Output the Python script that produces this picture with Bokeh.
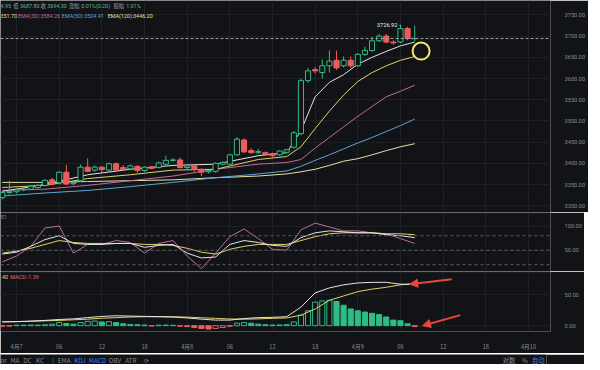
from bokeh.plotting import figure
from bokeh.layouts import column
from bokeh.models import (ColumnDataSource, Range1d, FixedTicker, Span, Label,
                          Arrow, NormalHead, NumeralTickFormatter)
from bokeh.embed import file_html
from bokeh.resources import INLINE

# ---------------- data ----------------
hours = list(range(-2, 57))  # hours since 4月7 00:00, hourly candles
opens = [3319, 3331, 3333, 3338, 3339, 3343, 3348, 3361, 3354, 3379,
         3352, 3359, 3391, 3384, 3391, 3384, 3399, 3390, 3387, 3393,
         3383, 3392, 3390, 3398, 3407, 3408, 3390, 3394, 3386, 3380,
         3381, 3398, 3398, 3420, 3455, 3430, 3425, 3425, 3423, 3420,
         3426, 3438, 3470, 3595, 3621, 3614, 3630, 3643, 3630, 3643,
         3630, 3657, 3666, 3689, 3700, 3686, 3686, 3718, 3694.1]
highs = [3334, 3359, 3340, 3345, 3349, 3351, 3362, 3366, 3381, 3397,
         3358, 3397, 3412, 3395, 3393, 3402, 3402, 3396, 3397, 3395,
         3393, 3394, 3404, 3418, 3412, 3414, 3398, 3396, 3388, 3385,
         3402, 3405, 3423, 3462, 3459, 3436, 3434, 3428, 3425, 3431,
         3434, 3476, 3600, 3625, 3627, 3645, 3666, 3666, 3652, 3652,
         3660, 3675, 3698, 3705, 3705, 3690, 3726.92, 3722, 3724.95]
lows = [3315, 3327, 3329, 3334, 3336, 3340, 3345, 3348, 3350, 3349,
        3348, 3356, 3379, 3380, 3378, 3381, 3382, 3383, 3384, 3378,
        3380, 3386, 3388, 3396, 3404, 3388, 3386, 3380, 3370, 3376,
        3378, 3395, 3396, 3418, 3424, 3423, 3422, 3417, 3415, 3418,
        3423, 3435, 3466, 3590, 3611, 3600, 3614, 3620, 3626, 3625,
        3627, 3653, 3663, 3686, 3683, 3680, 3683, 3690, 3687.8]
closes = [3331, 3334, 3337, 3339, 3346, 3348, 3360, 3351, 3379, 3351,
          3355, 3391, 3381, 3391, 3385, 3399, 3384, 3385, 3394, 3383,
          3391, 3388, 3401, 3407, 3408, 3390, 3394, 3386, 3379, 3382,
          3400, 3402, 3420, 3457, 3427, 3425, 3428, 3420, 3418, 3429,
          3432, 3472, 3595, 3618, 3618, 3630, 3641, 3625, 3643, 3630,
          3657, 3666, 3689, 3700, 3686, 3684, 3718, 3694.1, 3694.3]

ema_hours = [-2, 4, 10, 16, 22, 28, 34, 38, 40, 42, 44, 46, 48, 50, 52, 54, 56]
ema_fast = [3334, 3350, 3373, 3386, 3395, 3398, 3418, 3425, 3477, 3557,
            3591, 3609, 3634, 3650, 3664, 3677, 3686]
ema_mid = [3343, 3348, 3364, 3373, 3384, 3386, 3409, 3416, 3439, 3482,
           3523, 3561, 3593, 3614, 3630, 3643, 3651.7]
ema_30 = [3336, 3339, 3348, 3359, 3370, 3386, 3398, 3402, 3409, 3436,
          3461, 3486, 3511, 3534, 3557, 3570, 3584.26]
ema_60 = [3323, 3330, 3336, 3345, 3355, 3366, 3375, 3382, 3393, 3407,
          3420, 3434, 3448, 3461, 3475, 3489, 3504.41]
ema_120 = [3355, 3355, 3357, 3359, 3361, 3366, 3370, 3375, 3380, 3386,
           3395, 3405, 3411, 3420, 3430, 3439, 3446.2]

ind_hours = list(range(-2, 57, 2))
kdj_k = [42, 46, 58, 72, 80, 64, 62, 62, 64, 64, 56, 60, 62, 44, 34,
         36, 62, 70, 66, 60, 58, 76, 86, 90, 88, 86, 86, 82, 80, 76]
kdj_d = [44, 48, 54, 62, 70, 66, 64, 64, 64, 64, 62, 62, 60, 54, 46,
         42, 52, 58, 62, 62, 62, 70, 78, 84, 86, 86, 86, 84, 84, 82]
kdj_j = [26, 38, 58, 96, 100, 44, 62, 62, 70, 66, 44, 64, 70, 38, 12,
         44, 78, 94, 74, 52, 50, 92, 106, 98, 90, 90, 86, 84, 74, 64]

macd_dif = [6, 6.5, 7.5, 8.5, 10, 11, 13, 15, 16, 15.5, 15, 14.5, 14, 12.5, 10.5,
            9, 9, 11.5, 13, 13.5, 14.5, 30, 53, 61, 66, 69, 70, 70, 67, 67]
macd_dea = [6.5, 6.5, 7, 7.8, 8.5, 9.5, 10.5, 12, 13, 14, 14.5, 14.5, 14.3, 13.8, 12.8,
            11.8, 10.8, 10.5, 11, 11.8, 12.5, 17, 27, 41, 48, 55, 59, 62, 66, 67.7]
macd_hist = [-1, -0.8, 0.8, 0.8, 1, 1, 1.5, 2.5, 5, 3.5, 2.5, 5, 7, 7.5, 6,
             6.5, 5, 3, 2, 1.5, 1, -0.6, 0.8, 1, 0.6, -0.8, -1.5, -3, -4.5, -5.5,
             -4.5, -3, -1, 4, 5, 4, 2.5, 1.5, 1, 1.2, 1.8,
             6, 17, 24, 38, 40, 41, 39, 33, 27, 24, 22, 20, 18, 14, 9, 8, 3, -1.39]

x_tick_hours = [0, 6, 12, 18, 24, 30, 36, 42, 48, 54, 60, 66, 72]
x_tick_labels = ["4月7", "06", "12", "18", "4月8", "06", "12", "18",
                 "4月9", "06", "12", "18", "4月10"]
price_ticks = [3300, 3350, 3400, 3450, 3500, 3550, 3600, 3650, 3700, 3750]
kdj_ticks = [50, 100]
kdj_levels = [20, 50, 80]
macd_ticks = [0, 50]

# ---------------- style ----------------
BG = "#121316"
GRID = "#1e2025"
SEP = "#2b2e34"
TXT = "#878a91"
GREEN = "#2ebd85"
RED = "#ef5b5b"
WHITE = "#e4e4e4"
YELLOW = "#e2d06a"
PINK = "#c06aa6"
BLUE = "#5ba6d4"
PALE = "#e6e0a6"
BLUEUI = "#3f7fe8"
FONT = "Roboto"
CJK = "Noto Sans CJK SC"
FS = "5.7px"
FSH = "5.4px"
FW = 550
X0, X1 = -2.26, 75.1


def hx(px):
    """reference pixel column -> hour coordinate (layout helper)"""
    return (px - 16.5) / 7.3


xr = Range1d(X0, X1)


def base_fig(h, yr, yticks, xaxis=False):
    f = figure(frame_width=FW, frame_height=h, x_range=xr, y_range=yr,
               output_backend="svg", toolbar_location=None,
               y_axis_location="right",
               x_axis_location="below" if xaxis else None,
               min_border_left=0, min_border_top=0, min_border_bottom=0,
               min_border_right=34, background_fill_color=BG,
               border_fill_color=BG, outline_line_color=None)
    ax = f.yaxis[0]
    ax.ticker = FixedTicker(ticks=yticks)
    ax.formatter = NumeralTickFormatter(format="0.00")
    ax.major_label_text_font_size = FS
    ax.major_label_text_color = TXT
    ax.major_label_text_font = FONT
    ax.axis_line_color = None
    ax.major_tick_line_color = None
    ax.minor_tick_line_color = None
    ax.major_label_standoff = 8
    f.xgrid.ticker = FixedTicker(ticks=x_tick_hours)
    f.xgrid.grid_line_color = GRID
    f.ygrid.grid_line_color = GRID
    return f


def lab(f, x, y, text, color, font=FONT, align="left", size=FS, **kw):
    f.add_layout(Label(x=x, y=y, text=text, text_color=color, text_font=font,
                       text_font_size=size, text_align=align,
                       text_baseline="middle", **kw))


# ---------------- main price panel ----------------
p = base_fig(212, Range1d(3284, 3784), price_ticks)

inc = [c >= o for o, c in zip(opens, closes)]
csrc = ColumnDataSource(dict(
    h=hours, hi=highs, lo=lows,
    top=[max(o, c) for o, c in zip(opens, closes)],
    bottom=[min(o, c) for o, c in zip(opens, closes)],
    col=[GREEN if i else RED for i in inc],
    fill=[BG if i else RED for i in inc]))

esrc = ColumnDataSource(dict(h=ema_hours, f=ema_fast, m=ema_mid, e30=ema_30,
                             e60=ema_60, e120=ema_120))
p.line("h", "e120", source=esrc, line_color=PALE, line_width=1)
p.line("h", "e60", source=esrc, line_color=BLUE, line_width=1)
p.line("h", "e30", source=esrc, line_color=PINK, line_width=1)
p.line("h", "m", source=esrc, line_color=YELLOW, line_width=1)
p.line("h", "f", source=esrc, line_color=WHITE, line_width=1)

p.segment(x0="h", y0="hi", x1="h", y1="lo", line_color="col", source=csrc)
p.vbar(x="h", width=0.72, top="top", bottom="bottom", fill_color="fill",
       line_color="col", line_width=1, source=csrc)

last = closes[-1]
p.add_layout(Span(location=last, dimension="width", line_color="#a0a0a0",
                  line_dash="3 2", line_width=1))
p.add_layout(Label(x=X1, y=last, x_offset=3, text=f"{last:.2f}",
                   text_color="white", text_font=FONT, text_font_size=FS,
                   text_baseline="middle", background_fill_color=GREEN,
                   padding=2))

imax = highs.index(max(highs))
lab(p, hours[imax], highs[imax], f"{highs[imax]:.2f} -", "#e8e8e8", align="right")

# highlight circle near end of the yellow EMA
p.scatter([hours[-1] + 0.9], [ema_mid[-1] + 13], size=17, marker="circle",
          fill_alpha=0, line_color="#f4e96a", line_width=2)

# header lines
y1, y2 = 3770.5, 3747.7
VALC, KEYC = "#5fb896", "#9a9ca2"
for px, t, c in [(0, "4.95", VALC), (13, "低", KEYC), (20, "3687.80", VALC),
                 (41, "收", KEYC), (48, "3694.30", VALC), (70, "涨幅", KEYC),
                 (83, "0.01%(0.20)", VALC), (116, "振幅", KEYC), (129, "1.01%", VALC)]:
    lab(p, hx(px), y1, t, c, font=CJK if not t[0].isdigit() else FONT, size=FSH)
for px, t, c in [(0, "351.70", "#e6d98a"), (18, "EMA(30):3584.26", PINK),
                 (63, "EMA(50):3504.41", BLUE), (110, "EMA(120):3446.20", PALE)]:
    lab(p, hx(px), y2, t, c, size=FSH)

# ---------------- KDJ panel ----------------
pk = base_fig(59, Range1d(6, 128), kdj_ticks)
for lv in kdj_levels:
    pk.add_layout(Span(location=lv, dimension="width", line_color="#5c5f66",
                       line_dash="3 3", line_width=1))
pk.add_layout(Span(location=127.4, dimension="width", line_color=SEP, line_width=1))
ksrc = ColumnDataSource(dict(h=ind_hours, k=kdj_k, d=kdj_d, j=kdj_j))
pk.line("h", "j", source=ksrc, line_color=PINK, line_width=1)
pk.line("h", "d", source=ksrc, line_color=YELLOW, line_width=1)
pk.line("h", "k", source=ksrc, line_color=WHITE, line_width=1)
lab(pk, X0, 118, "51", PINK, size=FSH)

# ---------------- MACD panel ----------------
pm = base_fig(60, Range1d(-9.4, 87.5), macd_ticks, xaxis=True)
xa = pm.xaxis[0]
xa.ticker = FixedTicker(ticks=x_tick_hours)
xa.major_label_overrides = {h: t for h, t in zip(x_tick_hours, x_tick_labels)}
xa.major_label_text_font = CJK
xa.major_label_text_font_size = FS
xa.major_label_text_color = TXT
xa.axis_line_color = None
xa.major_tick_line_color = None
xa.minor_tick_line_color = None
xa.major_label_standoff = 4
pm.add_layout(Span(location=86.9, dimension="width", line_color=SEP, line_width=1))

hcol, hfill = [], []
prev = 0
for v in macd_hist:
    if v >= 0:
        hcol.append(GREEN)
        hfill.append(BG if v >= prev else GREEN)
    else:
        hcol.append(RED)
        hfill.append(RED if v <= prev else BG)
    prev = v
hsrc = ColumnDataSource(dict(h=hours, v=macd_hist, col=hcol, fill=hfill))
pm.vbar(x="h", width=0.72, top="v", bottom=0, fill_color="fill",
        line_color="col", line_width=1, source=hsrc)
msrc = ColumnDataSource(dict(h=ind_hours, dif=macd_dif, dea=macd_dea))
pm.line("h", "dea", source=msrc, line_color=YELLOW, line_width=1)
pm.line("h", "dif", source=msrc, line_color=WHITE, line_width=1)

lab(pm, X0, 78, ".40", YELLOW, size=FSH)
lab(pm, hx(10), 78, f"MACD:{macd_hist[-1]:.2f}", "#e06a62", size=FSH)
lab(pm, X1, -21, "筹 码", TXT, font=CJK, x_offset=18)

ARROW = "#e8453c"
pm.add_layout(Arrow(end=NormalHead(size=8, fill_color=ARROW, line_color=ARROW),
                    x_start=hours[-1] + 5.2, y_start=75,
                    x_end=hours[-1] - 0.7, y_end=macd_dif[-1],
                    line_color=ARROW, line_width=2))
pm.add_layout(Arrow(end=NormalHead(size=8, fill_color=ARROW, line_color=ARROW),
                    x_start=hours[-1] + 6.4, y_start=17,
                    x_end=hours[-1] + 1.1, y_end=0,
                    line_color=ARROW, line_width=2))

# ---------------- bottom indicator bar ----------------
pb = figure(width=584, height=11, x_range=Range1d(0, 600), y_range=Range1d(0, 1),
            output_backend="svg", toolbar_location=None, min_border=0,
            background_fill_color=BG, border_fill_color=BG, outline_line_color=None,
            x_axis_location=None, y_axis_location=None)
pb.xgrid.visible = False
pb.ygrid.visible = False
FS2 = "6.3px"
for px, t, c in [(0, "or", TXT), (11, "MA", TXT), (25, "DC", TXT), (39, "KC", TXT),
                 (57, "|", TXT), (63, "EMA", TXT), (81, "KDJ", BLUEUI),
                 (97, "MACD", BLUEUI), (119, "OBV", TXT), (137, "ATR", TXT),
                 (158, "⟳", TXT), (552, "对数", TXT), (573, "%", TXT),
                 (584, "自动", BLUEUI)]:
    lab(pb, px, 0.5, t, c, font=CJK, size=FS2)

layout = column(p, pk, pm, pb, spacing=0)
open("out.html", "w").write(file_html(layout, INLINE))
